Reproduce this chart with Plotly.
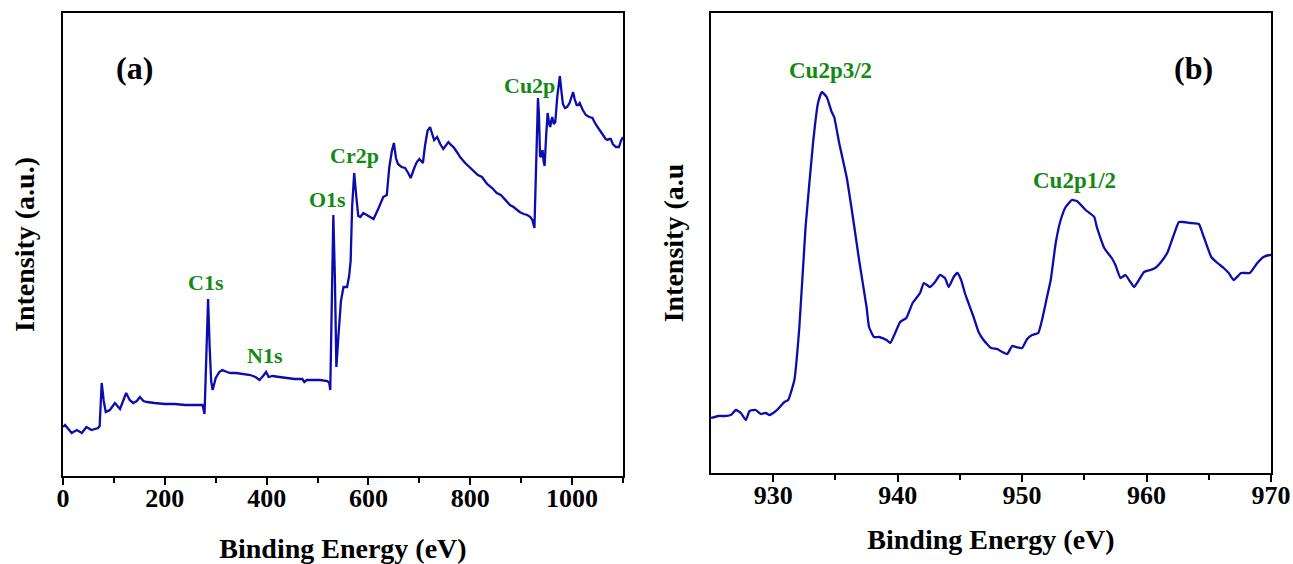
import plotly.graph_objects as go

# ---------------- data ----------------
# (a) survey spectrum: binding energy (eV) and intensity (a.u.)
survey_energy = [0, 4, 17, 27, 37, 46, 56, 69, 72, 76, 80, 84, 92, 102, 112, 118, 124, 131,
                 138, 145, 151, 158, 165, 180, 200, 220, 240, 260, 274, 278, 281, 285, 288,
                 291, 294, 300, 307, 313, 322, 329, 340, 355, 368, 378, 386, 393, 399, 404,
                 412, 425, 440, 455, 470, 474, 479, 490, 505, 519, 523, 525, 528, 531, 534,
                 537, 541, 546, 551, 558, 562, 565, 568, 572, 576, 580, 584, 590, 600, 610,
                 620, 629, 636, 641, 646, 650, 654, 658, 665, 672, 678, 683, 690, 695, 700,
                 707, 711, 716, 721, 726, 729, 735, 741, 747, 752, 757, 762, 767, 775, 780,
                 790, 800, 806, 815, 823, 833, 843, 852, 860, 870, 878, 885, 897, 905, 912,
                 918, 922, 926, 929, 931, 933, 935, 937, 939, 942, 944, 946, 949, 952, 955,
                 957, 959, 961, 964, 967, 971, 974, 976, 979, 982, 986, 990, 995, 999, 1002,
                 1005, 1009, 1012, 1015, 1021, 1027, 1034, 1040, 1046, 1051, 1060, 1066, 1070,
                 1073, 1076, 1080, 1086, 1092, 1096, 1100]
survey_intensity = [49, 51, 43, 46, 43, 49, 46, 48, 50, 93, 75, 64, 66, 73, 67, 75, 83, 76,
                    73, 75, 79, 75, 74, 73, 72, 72, 71, 71, 71, 62, 110, 177, 130,
                    95, 86, 98, 104, 106, 104, 103, 103, 102, 101, 99, 96, 100, 104, 99,
                    100, 99, 98, 97, 97, 94, 96, 96, 96, 95, 93, 86, 180, 261, 200,
                    109, 140, 175, 189, 189, 200, 215, 270, 303, 280, 260, 259, 263, 260, 257,
                    268, 279, 281, 309, 325, 333, 318, 312, 309, 308, 303, 298, 308, 314, 317,
                    313, 330, 345, 349, 341, 336, 339, 332, 327, 331, 334, 331, 329, 323, 319,
                    313, 308, 306, 301, 299, 292, 288, 283, 281, 275, 271, 269, 264, 262, 261,
                    259, 256, 248, 310, 360, 378, 360, 320, 319, 326, 315, 310, 340, 363, 352,
                    349, 355, 359, 352, 354, 380, 395, 400, 385, 372, 368, 369, 373, 381, 384,
                    377, 371, 371, 373, 366, 361, 359, 358, 352, 348, 342, 337, 336,
                    337, 337, 332, 329, 329, 335, 339]

# (b) Cu 2p high-resolution spectrum
cu_energy = [925.0, 925.6, 926.1, 926.6, 927.0, 927.4, 927.8, 928.1, 928.6, 929.0, 929.4,
             929.7, 930.0, 930.3, 930.9, 931.2, 931.7, 932.1, 932.6, 933.2, 933.6, 933.9,
             934.3, 934.7, 934.9, 935.3, 935.9, 936.4, 936.9, 937.5, 937.7, 938.1, 938.5,
             939.1, 939.4, 939.8, 940.2, 940.7, 941.2, 941.8, 942.1, 942.6, 943.0, 943.4,
             943.8, 944.1, 944.5, 944.8, 945.1, 945.4, 945.6, 946.1, 946.5, 946.9, 947.5,
             948.0, 948.4, 948.8, 949.2, 949.5, 950.0, 950.4, 950.8, 951.3, 951.6, 952.0,
             952.3, 952.7, 953.1, 953.5, 954.0, 954.4, 955.1, 955.8, 956.0, 956.6, 957.2,
             957.5, 957.9, 958.3, 958.7, 959.0, 959.8, 960.3, 960.7, 961.1, 961.7, 962.1,
             962.6, 963.0, 963.5, 964.2, 964.6, 965.2, 965.7, 966.2, 966.6, 967.0, 967.6,
             968.3, 968.9, 969.4, 969.9, 970.0]
cu_intensity = [55, 57, 57, 58, 63, 60, 53, 62, 63, 59, 60,
                58, 60, 63, 71, 73, 93, 146, 246, 330, 370, 381,
                376, 361, 356, 330, 296, 256, 213, 166, 146, 136, 136,
                133, 130, 140, 151, 155, 170, 180, 190, 186, 191, 198,
                195, 186, 196, 200, 193, 180, 173, 156, 141, 133, 125,
                124, 121, 119, 127, 126, 125, 134, 138, 140, 153, 176,
                193, 230, 253, 266, 273, 272, 263, 256, 246, 225, 215,
                208, 195, 198, 191, 186, 201, 203, 205, 210, 221, 235,
                251, 251, 250, 249, 236, 216, 210, 205, 200, 193, 200,
                200, 210, 216, 218, 218]

survey_ticks = [0, 200, 400, 600, 800, 1000]
survey_minor_ticks = [100, 300, 500, 700, 900, 1100]
cu_ticks = [930, 940, 950, 960, 970]
cu_minor_ticks = [935, 945, 955, 965]

survey_labels = ["C1s", "N1s", "O1s", "Cr2p", "Cu2p"]
survey_label_x = [281, 397, 520, 573, 917]
survey_label_y = [194, 121, 277, 321, 391]
cu_labels = ["Cu2p3/2", "Cu2p1/2"]
cu_label_x = [934.6, 954.2]
cu_label_y = [403, 293]

# ---------------- figure ----------------
W, H = 1293, 564
LINE = "#0c0cae"
GREEN = "#138a13"
SERIF = "Liberation Serif"

fig = go.Figure()
fig.add_trace(go.Scatter(x=survey_energy, y=survey_intensity, mode="lines",
                         line=dict(color=LINE, width=2.3), xaxis="x", yaxis="y",
                         hoverinfo="skip"))
fig.add_trace(go.Scatter(x=cu_energy, y=cu_intensity, mode="lines",
                         line=dict(color=LINE, width=2.3, shape="spline", smoothing=0.4),
                         xaxis="x2", yaxis="y2", hoverinfo="skip"))

tickfont = dict(family=SERIF, size=26, color="black", weight="bold")
titlefont = dict(family=SERIF, size=28, color="black", weight="bold")

def xaxis_cfg(domain, rng, ticks, minor, standoff):
    return dict(domain=domain, range=rng, tickvals=ticks, ticks="outside", ticklen=7,
                tickwidth=2, tickcolor="black", tickfont=tickfont, ticklabelstandoff=-9,
                minor=dict(tickvals=minor, ticks="outside", ticklen=5, tickwidth=2,
                           tickcolor="black", showgrid=False),
                showline=True, linecolor="black", linewidth=2, mirror=True,
                showgrid=False, zeroline=False, automargin=False,
                title=dict(text="Binding Energy (eV)", font=titlefont, standoff=standoff))

def yaxis_cfg(domain, rng, anchor, title, standoff):
    return dict(domain=domain, range=rng, anchor=anchor, showticklabels=False, ticks="",
                showline=True, linecolor="black", linewidth=2, mirror=True,
                showgrid=False, zeroline=False, automargin=False,
                title=dict(text=title, font=titlefont, standoff=standoff))

fig.update_layout(
    width=W, height=H, margin=dict(l=0, r=0, t=0, b=0),
    paper_bgcolor="white", plot_bgcolor="white", showlegend=False,
    xaxis=xaxis_cfg([63 / W, 623 / W], [0, 1100], survey_ticks, survey_minor_ticks, 28),
    yaxis=yaxis_cfg([(H - 476) / H, (H - 13) / H], [0, 463], "x", "Intensity (a.u.)", 18),
    xaxis2=dict(anchor="y2", **xaxis_cfg([711 / W, 1271 / W], [925, 970], cu_ticks,
                                         cu_minor_ticks, 20)),
    yaxis2=yaxis_cfg([(H - 473) / H, (H - 13) / H], [0, 460], "x2", "Intensity (a.u", 17),
)
fig.layout.xaxis.anchor = "y"

labfont = dict(family=SERIF, size=22, color=GREEN, weight="bold")
for t, x, y in zip(survey_labels, survey_label_x, survey_label_y):
    fig.add_annotation(text=t, x=x, y=y, xref="x", yref="y", showarrow=False, font=labfont)
cu_labfont = dict(family=SERIF, size=23, color=GREEN, weight="bold")
for t, x, y in zip(cu_labels, cu_label_x, cu_label_y):
    fig.add_annotation(text=t, x=x, y=y, xref="x2", yref="y2", showarrow=False, font=cu_labfont)

panelfont = dict(family=SERIF, size=32, color="black", weight="bold")
fig.add_annotation(text="(a)", x=141, y=408, xref="x", yref="y", showarrow=False, font=panelfont)
fig.add_annotation(text="(b)", x=963.8, y=405, xref="x2", yref="y2", showarrow=False, font=panelfont)

fig.write_html("out.html")
